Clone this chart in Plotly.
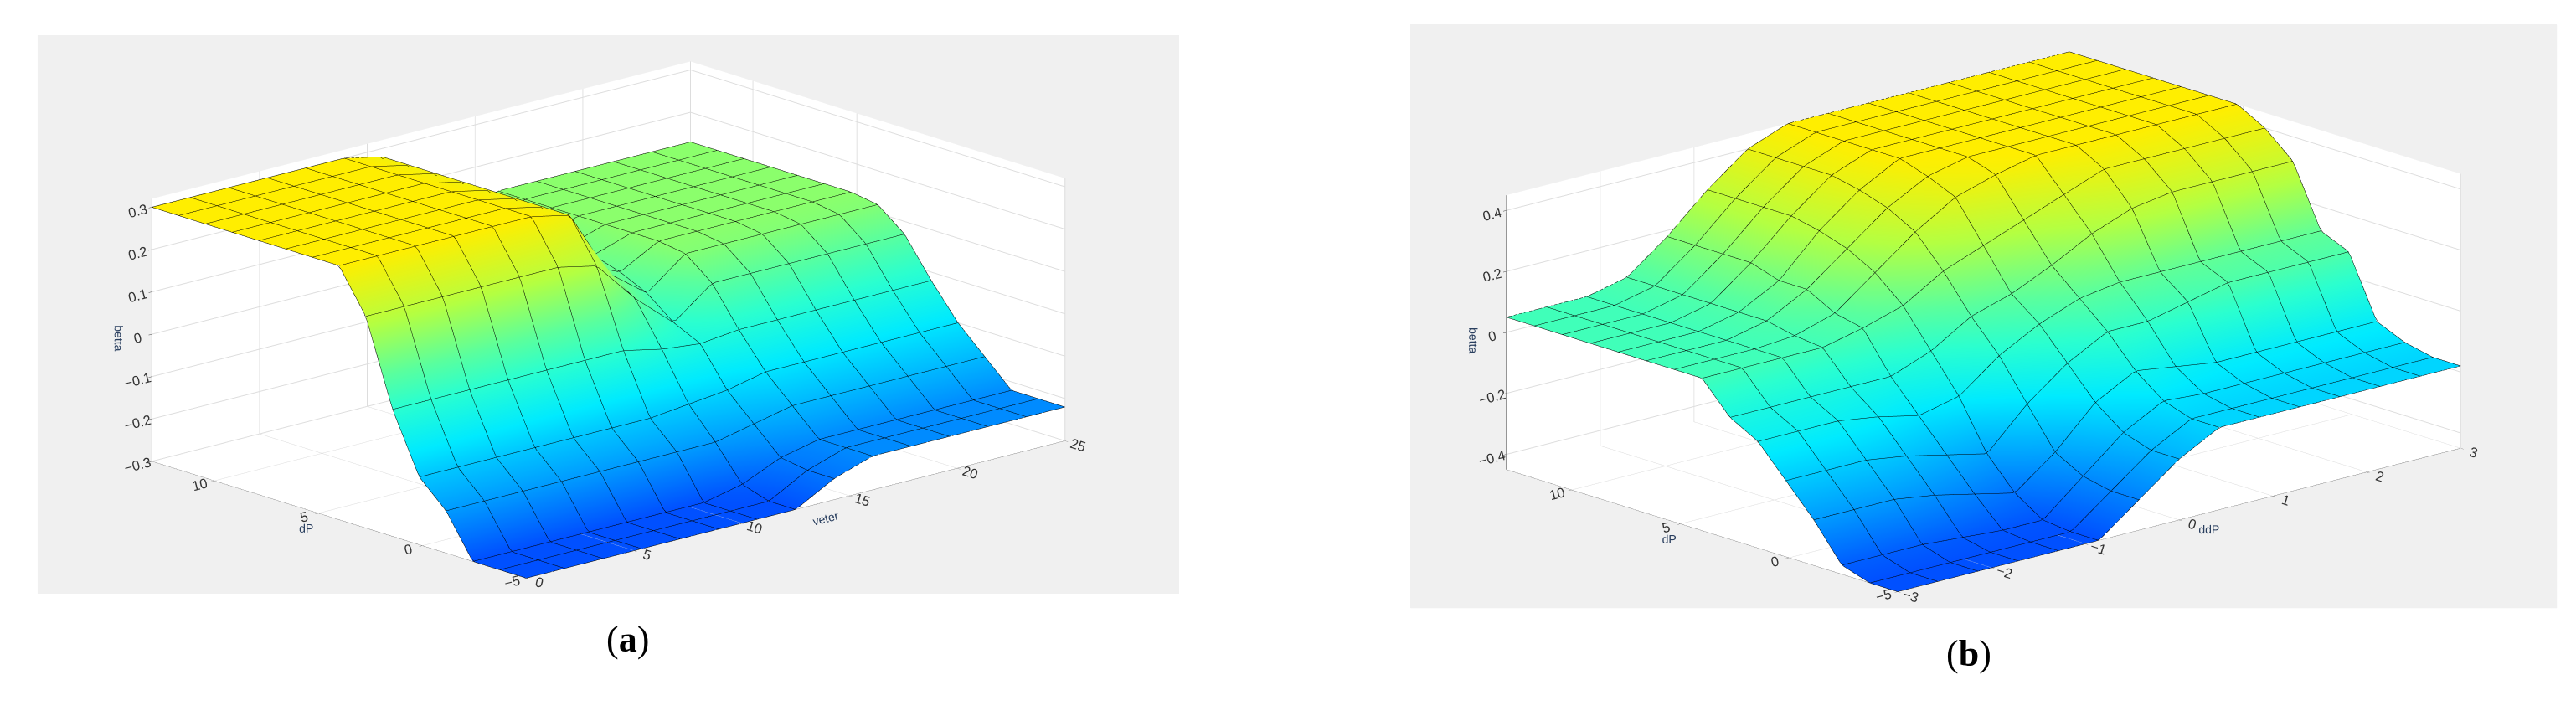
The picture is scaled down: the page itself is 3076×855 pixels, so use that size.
import plotly.graph_objects as go
import numpy as np

# panel (a): betta(dP, veter)
veter = np.linspace(0, 25, 15)
dP_a = np.linspace(-5, 13, 15)
betta_a = [
    [-.30, -.30, -.30, -.30, -.30, -.30, -.30, -.30, -.25, -.22, -.22, -.22, -.22, -.22, -.22],
    [-.30, -.30, -.30, -.30, -.30, -.30, -.30, -.30, -.25, -.22, -.22, -.22, -.22, -.22, -.22],
    [-.30, -.30, -.30, -.30, -.30, -.30, -.30, -.28, -.24, -.22, -.22, -.22, -.22, -.22, -.22],
    [-.20, -.20, -.20, -.20, -.20, -.20, -.20, -.20, -.18, -.16, -.16, -.16, -.16, -.16, -.16],
    [-.14, -.14, -.14, -.14, -.14, -.14, -.14, -.13, -.12, -.10, -.10, -.10, -.10, -.10, -.10],
    [0.00, 0.00, 0.00, 0.00, 0.00, 0.00, 0.00, -.02, -.03, -.02, -.02, -.02, -.02, -.02, -.02],
    [0.20, 0.20, 0.20, 0.20, 0.20, 0.20, 0.18, 0.08, 0.00, 0.07, 0.07, 0.07, 0.07, 0.07, 0.07],
    [0.30, 0.30, 0.30, 0.30, 0.30, 0.30, 0.28, 0.12, 0.05, 0.12, 0.12, 0.12, 0.12, 0.12, 0.12],
    [0.30, 0.30, 0.30, 0.30, 0.30, 0.30, 0.28, 0.12, 0.08, 0.13, 0.13, 0.13, 0.13, 0.13, 0.13],
    [0.30, 0.30, 0.30, 0.30, 0.30, 0.30, 0.28, 0.12, 0.10, 0.13, 0.13, 0.13, 0.13, 0.13, 0.13],
    [0.30, 0.30, 0.30, 0.30, 0.30, 0.30, 0.28, 0.12, 0.10, 0.13, 0.13, 0.13, 0.13, 0.13, 0.13],
    [0.30, 0.30, 0.30, 0.30, 0.30, 0.30, 0.28, 0.12, 0.10, 0.13, 0.13, 0.13, 0.13, 0.13, 0.13],
    [0.30, 0.30, 0.30, 0.30, 0.30, 0.30, 0.28, 0.12, 0.10, 0.13, 0.13, 0.13, 0.13, 0.13, 0.13],
    [0.30, 0.30, 0.30, 0.30, 0.30, 0.30, 0.28, 0.12, 0.10, 0.13, 0.13, 0.13, 0.13, 0.13, 0.13],
    [0.30, 0.30, 0.30, 0.30, 0.30, 0.30, 0.28, 0.12, 0.10, 0.13, 0.13, 0.13, 0.13, 0.13, 0.13],
]

# panel (b): betta(dP, ddP)
ddP = np.linspace(-3, 3, 15)
dP_b = np.linspace(-5, 13, 15)
betta_b = [
    [-.45, -.45, -.45, -.45, -.45, -.45, -.35, -.25, -.18, -.18, -.18, -.18, -.18, -.18, -.18],
    [-.45, -.45, -.45, -.45, -.45, -.45, -.35, -.25, -.18, -.18, -.18, -.18, -.18, -.18, -.18],
    [-.42, -.42, -.42, -.43, -.44, -.44, -.33, -.22, -.15, -.16, -.16, -.16, -.16, -.16, -.16],
    [-.30, -.30, -.30, -.32, -.35, -.38, -.28, -.15, -.08, -.10, -.12, -.12, -.12, -.12, -.12],
    [-.20, -.20, -.20, -.22, -.25, -.28, -.15, -.05, 0.02, 0.02, 0.05, 0.08, 0.08, 0.08, 0.08],
    [-.10, -.10, -.10, -.12, -.15, -.12, -.02, 0.05, 0.10, 0.12, 0.12, 0.12, 0.12, 0.12, 0.12],
    [-.05, -.05, -.05, -.05, -.05, 0.00, 0.08, 0.12, 0.18, 0.25, 0.30, 0.32, 0.32, 0.32, 0.32],
    [0.05, 0.05, 0.05, 0.05, 0.08, 0.12, 0.20, 0.25, 0.30, 0.35, 0.40, 0.40, 0.40, 0.40, 0.40],
    [0.05, 0.05, 0.05, 0.06, 0.10, 0.20, 0.30, 0.38, 0.42, 0.45, 0.45, 0.45, 0.45, 0.45, 0.45],
    [0.05, 0.05, 0.05, 0.08, 0.15, 0.25, 0.35, 0.42, 0.45, 0.45, 0.45, 0.45, 0.45, 0.45, 0.45],
    [0.05, 0.05, 0.05, 0.08, 0.15, 0.28, 0.38, 0.45, 0.45, 0.45, 0.45, 0.45, 0.45, 0.45, 0.45],
    [0.05, 0.05, 0.05, 0.08, 0.18, 0.30, 0.40, 0.45, 0.45, 0.45, 0.45, 0.45, 0.45, 0.45, 0.45],
    [0.05, 0.05, 0.05, 0.08, 0.18, 0.30, 0.40, 0.45, 0.45, 0.45, 0.45, 0.45, 0.45, 0.45, 0.45],
    [0.05, 0.05, 0.05, 0.08, 0.18, 0.30, 0.40, 0.45, 0.45, 0.45, 0.45, 0.45, 0.45, 0.45, 0.45],
    [0.05, 0.05, 0.05, 0.08, 0.18, 0.30, 0.40, 0.45, 0.45, 0.45, 0.45, 0.45, 0.45, 0.45, 0.45],
]

cscale = [[0, '#0050ff'], [0.2, '#00aaff'], [0.35, '#00eaff'], [0.5, '#2affd0'],
          [0.62, '#5aff9e'], [0.8, '#b4ff42'], [1, '#ffee00']]
flat = dict(ambient=1, diffuse=0, specular=0, roughness=1, fresnel=0)


def grid_lines(x, y):
    return dict(
        x=dict(show=True, color='black', width=1, start=x[0], end=x[-1], size=x[1] - x[0]),
        y=dict(show=True, color='black', width=1, start=y[0], end=y[-1], size=y[1] - y[0]),
    )


fig = go.Figure()
fig.add_trace(go.Surface(x=veter, y=dP_a, z=betta_a, colorscale=cscale, showscale=False,
                         cmin=-0.3, cmax=0.3, lighting=flat,
                         contours=grid_lines(veter, dP_a), scene='scene'))
fig.add_trace(go.Surface(x=ddP, y=dP_b, z=betta_b, colorscale=cscale, showscale=False,
                         cmin=-0.45, cmax=0.45, lighting=flat,
                         contours=grid_lines(ddP, dP_b), scene='scene2'))

ax = dict(showbackground=True, backgroundcolor='white', gridcolor='#dddddd',
          showline=True, linecolor='#444', ticks='outside', tickcolor='#444',
          tickfont=dict(size=14, color='#333'), title_font=dict(size=15, color='#333'),
          zeroline=False, showspikes=False)

cam = dict(eye=dict(x=-2.35, y=-2.6, z=1.05), center=dict(x=0, y=0, z=0.02),
           projection=dict(type='orthographic'))
aspect = dict(x=2.6, y=2.0, z=0.98)

fig.update_layout(
    width=3076, height=855,
    paper_bgcolor='white',
    margin=dict(l=0, r=0, t=0, b=0),
    font=dict(family='Liberation Sans'),
    scene=dict(
        domain=dict(x=[0.012, 0.455], y=[0.18, 0.96]),
        xaxis=dict(ax, title='veter', range=[0, 25], tickvals=[0, 5, 10, 15, 20, 25]),
        yaxis=dict(ax, title='dP', range=[-5, 13], tickvals=[-5, 0, 5, 10]),
        zaxis=dict(ax, title='betta', range=[-0.3, 0.32], tickvals=[-0.3, -0.2, -0.1, 0, 0.1, 0.2, 0.3]),
        aspectmode='manual', aspectratio=aspect,
        camera=cam,
        bgcolor='#f0f0f0',
    ),
    scene2=dict(
        domain=dict(x=[0.545, 0.99], y=[0.16, 0.975]),
        xaxis=dict(ax, title='ddP', range=[-3, 3], tickvals=[-3, -2, -1, 0, 1, 2, 3]),
        yaxis=dict(ax, title='dP', range=[-5, 13], tickvals=[-5, 0, 5, 10]),
        zaxis=dict(ax, title='betta', range=[-0.45, 0.45], tickvals=[-0.4, -0.2, 0, 0.2, 0.4]),
        aspectmode='manual', aspectratio=aspect,
        camera=cam,
        bgcolor='#f0f0f0',
    ),
    shapes=[
        dict(type='rect', xref='paper', yref='paper', x0=0.012, x1=0.455, y0=0.18, y1=0.96,
             fillcolor='#f0f0f0', line=dict(width=0), layer='below'),
        dict(type='rect', xref='paper', yref='paper', x0=0.545, x1=0.99, y0=0.16, y1=0.975,
             fillcolor='#f0f0f0', line=dict(width=0), layer='below'),
    ],
    annotations=[
        dict(text='(<b>a</b>)', x=0.232, y=0.085, xref='paper', yref='paper', showarrow=False,
             font=dict(family='Liberation Serif', size=44, color='black')),
        dict(text='(<b>b</b>)', x=0.771, y=0.065, xref='paper', yref='paper', showarrow=False,
             font=dict(family='Liberation Serif', size=44, color='black')),
    ],
)

fig.write_html("out.html")
